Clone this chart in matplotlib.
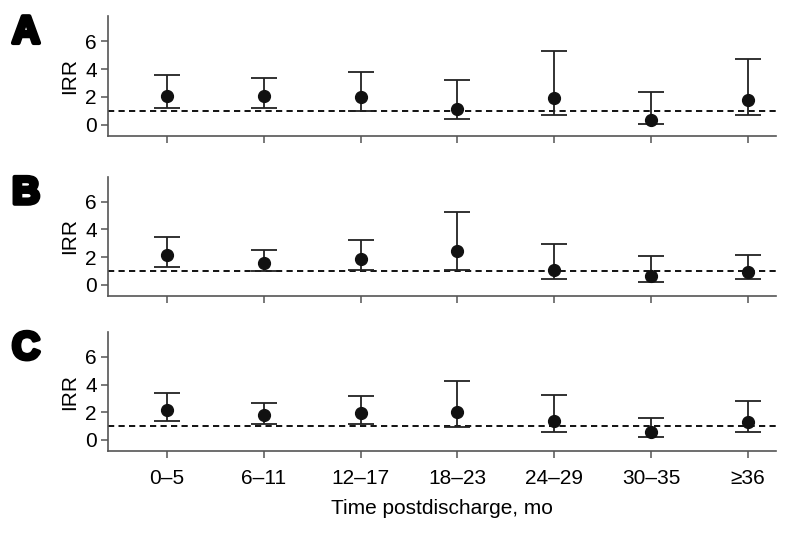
import matplotlib.pyplot as plt
import matplotlib.patheffects as pe

plt.rcParams['font.family'] = ['Liberation Sans', 'DejaVu Sans']

periods = ['0–5', '6–11', '12–17', '18–23', '24–29', '30–35', '≥36']

# IRR point estimates and 95% CI bounds for each panel
irr_a = [2.10, 2.05, 1.98, 1.14, 1.90, 0.36, 1.79]
low_a = [1.19, 1.19, 1.00, 0.40, 0.67, 0.05, 0.67]
up_a = [3.57, 3.38, 3.81, 3.21, 5.29, 2.38, 4.71]

irr_b = [2.16, 1.61, 1.87, 2.42, 1.09, 0.66, 0.95]
low_b = [1.32, 1.02, 1.09, 1.09, 0.40, 0.19, 0.40]
up_b = [3.42, 2.51, 3.27, 5.27, 2.92, 2.09, 2.14]

irr_c = [2.14, 1.81, 1.93, 2.03, 1.39, 0.57, 1.31]
low_c = [1.36, 1.14, 1.14, 0.95, 0.55, 0.19, 0.57]
up_c = [3.36, 2.69, 3.21, 4.24, 3.26, 1.60, 2.79]

panels = [('A', irr_a, low_a, up_a), ('B', irr_b, low_b, up_b), ('C', irr_c, low_c, up_c)]

fig = plt.figure(figsize=(7.91, 5.33), dpi=100)
left, width = 108 / 791, 668 / 791
boxes = [(136, 120), (296, 119.3), (451, 119)]

x = list(range(len(periods)))
for i, (letter, irr, low, up) in enumerate(panels):
    bot, h = boxes[i]
    ax = fig.add_axes([left, 1 - bot / 533, width, h / 533])
    yerr = [[m - l for m, l in zip(irr, low)], [u - m for m, u in zip(irr, up)]]
    ax.axhline(1, color='#111111', linestyle=(0, (3.2, 2.2)), linewidth=1.4, zorder=1)
    ax.errorbar(x, irr, yerr=yerr, fmt='o', color='#111111', ecolor='#222222',
                markersize=8.5, elinewidth=1.3, capsize=9.5, capthick=1.3, zorder=3)
    ax.set_xlim(-0.61, 6.29)
    ax.set_ylim(-0.8, 7.8)
    ax.set_yticks([0, 2, 4, 6])
    ax.set_xticks(x)
    for side in ['top', 'right']:
        ax.spines[side].set_visible(False)
    for side in ['left', 'bottom']:
        ax.spines[side].set_color('#555555')
        ax.spines[side].set_linewidth(1.2)
    ax.tick_params(axis='both', colors='#555555', labelcolor='black', labelsize=15,
                   width=1.1, length=5, pad=3)
    if i == 2:
        ax.set_xticklabels(periods)
        ax.tick_params(axis='x', pad=8)
        ax.set_xlabel('Time postdischarge, mo', fontsize=15, labelpad=8)
    else:
        ax.set_xticklabels([])
    ax.set_ylabel('IRR', fontsize=15, labelpad=4)
    fig.text(12 / 791, 1 - (bot - h + 17) / 533, letter, fontsize=28, fontweight='bold',
             va='center', ha='left',
             path_effects=[pe.withStroke(linewidth=3, foreground='black')])

fig.savefig('out.png', dpi=100)
